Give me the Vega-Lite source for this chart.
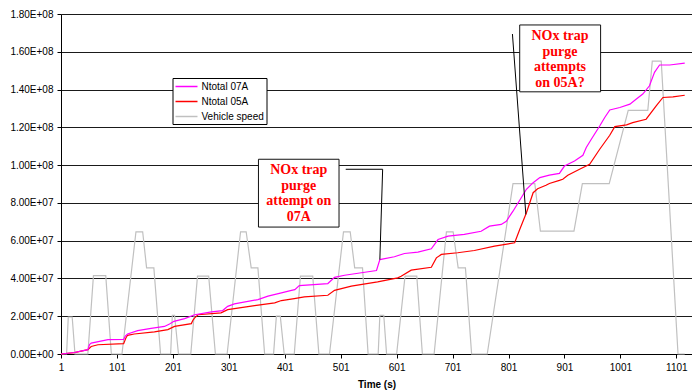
{
  "$schema": "https://vega.github.io/schema/vega-lite/v6.json",
  "width": 631,
  "height": 340,
  "autosize": {"type": "none"},
  "padding": {"left": 61, "top": 14, "right": 0, "bottom": 38},
  "background": "white",
  "config": {"view": {"stroke": null}, "font": "Liberation Sans"},
  "datasets": {
    "series": [
      {"series": "Vehicle speed", "t": 1, "v": 0},
      {"series": "Vehicle speed", "t": 11, "v": 0},
      {"series": "Vehicle speed", "t": 14, "v": 1.96e7},
      {"series": "Vehicle speed", "t": 21, "v": 1.96e7},
      {"series": "Vehicle speed", "t": 26, "v": 0},
      {"series": "Vehicle speed", "t": 49, "v": 0},
      {"series": "Vehicle speed", "t": 59, "v": 4.15e7},
      {"series": "Vehicle speed", "t": 81, "v": 4.15e7},
      {"series": "Vehicle speed", "t": 91, "v": 0},
      {"series": "Vehicle speed", "t": 110, "v": 0},
      {"series": "Vehicle speed", "t": 135, "v": 6.47e7},
      {"series": "Vehicle speed", "t": 147, "v": 6.47e7},
      {"series": "Vehicle speed", "t": 154, "v": 4.56e7},
      {"series": "Vehicle speed", "t": 167, "v": 4.56e7},
      {"series": "Vehicle speed", "t": 179, "v": 0},
      {"series": "Vehicle speed", "t": 197, "v": 0},
      {"series": "Vehicle speed", "t": 200, "v": 2.05e7},
      {"series": "Vehicle speed", "t": 204, "v": 2.05e7},
      {"series": "Vehicle speed", "t": 211, "v": 0},
      {"series": "Vehicle speed", "t": 233, "v": 0},
      {"series": "Vehicle speed", "t": 245, "v": 4.12e7},
      {"series": "Vehicle speed", "t": 265, "v": 4.12e7},
      {"series": "Vehicle speed", "t": 277, "v": 0},
      {"series": "Vehicle speed", "t": 298, "v": 0},
      {"series": "Vehicle speed", "t": 322, "v": 6.47e7},
      {"series": "Vehicle speed", "t": 332, "v": 6.47e7},
      {"series": "Vehicle speed", "t": 341, "v": 4.56e7},
      {"series": "Vehicle speed", "t": 353, "v": 4.56e7},
      {"series": "Vehicle speed", "t": 365, "v": 0},
      {"series": "Vehicle speed", "t": 381, "v": 0},
      {"series": "Vehicle speed", "t": 386, "v": 2.0e7},
      {"series": "Vehicle speed", "t": 393, "v": 2.0e7},
      {"series": "Vehicle speed", "t": 400, "v": 0},
      {"series": "Vehicle speed", "t": 418, "v": 0},
      {"series": "Vehicle speed", "t": 429, "v": 4.12e7},
      {"series": "Vehicle speed", "t": 451, "v": 4.12e7},
      {"series": "Vehicle speed", "t": 462, "v": 0},
      {"series": "Vehicle speed", "t": 481, "v": 0},
      {"series": "Vehicle speed", "t": 506, "v": 6.47e7},
      {"series": "Vehicle speed", "t": 518, "v": 6.47e7},
      {"series": "Vehicle speed", "t": 526, "v": 4.56e7},
      {"series": "Vehicle speed", "t": 540, "v": 4.56e7},
      {"series": "Vehicle speed", "t": 550, "v": 0},
      {"series": "Vehicle speed", "t": 568, "v": 0},
      {"series": "Vehicle speed", "t": 571, "v": 2.05e7},
      {"series": "Vehicle speed", "t": 578, "v": 2.05e7},
      {"series": "Vehicle speed", "t": 583, "v": 0},
      {"series": "Vehicle speed", "t": 601, "v": 0},
      {"series": "Vehicle speed", "t": 616, "v": 4.12e7},
      {"series": "Vehicle speed", "t": 637, "v": 4.12e7},
      {"series": "Vehicle speed", "t": 647, "v": 0},
      {"series": "Vehicle speed", "t": 668, "v": 0},
      {"series": "Vehicle speed", "t": 690, "v": 6.47e7},
      {"series": "Vehicle speed", "t": 702, "v": 6.47e7},
      {"series": "Vehicle speed", "t": 711, "v": 4.56e7},
      {"series": "Vehicle speed", "t": 724, "v": 4.56e7},
      {"series": "Vehicle speed", "t": 735, "v": 0},
      {"series": "Vehicle speed", "t": 763, "v": 0},
      {"series": "Vehicle speed", "t": 809, "v": 9.02e7},
      {"series": "Vehicle speed", "t": 848, "v": 9.02e7},
      {"series": "Vehicle speed", "t": 858, "v": 6.5e7},
      {"series": "Vehicle speed", "t": 918, "v": 6.5e7},
      {"series": "Vehicle speed", "t": 933, "v": 9.02e7},
      {"series": "Vehicle speed", "t": 981, "v": 9.02e7},
      {"series": "Vehicle speed", "t": 1015, "v": 1.29e8},
      {"series": "Vehicle speed", "t": 1050, "v": 1.29e8},
      {"series": "Vehicle speed", "t": 1058, "v": 1.55e8},
      {"series": "Vehicle speed", "t": 1074, "v": 1.55e8},
      {"series": "Vehicle speed", "t": 1104, "v": 0},
      {"series": "Vehicle speed", "t": 1116, "v": 0},

      {"series": "Ntotal 05A", "t": 1, "v": 0},
      {"series": "Ntotal 05A", "t": 25, "v": 0.07e7},
      {"series": "Ntotal 05A", "t": 49, "v": 0.23e7},
      {"series": "Ntotal 05A", "t": 55, "v": 0.40e7},
      {"series": "Ntotal 05A", "t": 67, "v": 0.49e7},
      {"series": "Ntotal 05A", "t": 113, "v": 0.55e7},
      {"series": "Ntotal 05A", "t": 117, "v": 0.85e7},
      {"series": "Ntotal 05A", "t": 120, "v": 0.99e7},
      {"series": "Ntotal 05A", "t": 132, "v": 1.06e7},
      {"series": "Ntotal 05A", "t": 168, "v": 1.17e7},
      {"series": "Ntotal 05A", "t": 192, "v": 1.29e7},
      {"series": "Ntotal 05A", "t": 204, "v": 1.46e7},
      {"series": "Ntotal 05A", "t": 234, "v": 1.61e7},
      {"series": "Ntotal 05A", "t": 237, "v": 1.8e7},
      {"series": "Ntotal 05A", "t": 240, "v": 1.91e7},
      {"series": "Ntotal 05A", "t": 246, "v": 2.08e7},
      {"series": "Ntotal 05A", "t": 287, "v": 2.18e7},
      {"series": "Ntotal 05A", "t": 299, "v": 2.35e7},
      {"series": "Ntotal 05A", "t": 347, "v": 2.56e7},
      {"series": "Ntotal 05A", "t": 383, "v": 2.71e7},
      {"series": "Ntotal 05A", "t": 395, "v": 2.83e7},
      {"series": "Ntotal 05A", "t": 418, "v": 2.93e7},
      {"series": "Ntotal 05A", "t": 436, "v": 3.02e7},
      {"series": "Ntotal 05A", "t": 478, "v": 3.11e7},
      {"series": "Ntotal 05A", "t": 490, "v": 3.37e7},
      {"series": "Ntotal 05A", "t": 520, "v": 3.59e7},
      {"series": "Ntotal 05A", "t": 567, "v": 3.82e7},
      {"series": "Ntotal 05A", "t": 603, "v": 4.03e7},
      {"series": "Ntotal 05A", "t": 609, "v": 4.12e7},
      {"series": "Ntotal 05A", "t": 627, "v": 4.44e7},
      {"series": "Ntotal 05A", "t": 663, "v": 4.59e7},
      {"series": "Ntotal 05A", "t": 672, "v": 5.09e7},
      {"series": "Ntotal 05A", "t": 681, "v": 5.27e7},
      {"series": "Ntotal 05A", "t": 710, "v": 5.36e7},
      {"series": "Ntotal 05A", "t": 740, "v": 5.48e7},
      {"series": "Ntotal 05A", "t": 776, "v": 5.71e7},
      {"series": "Ntotal 05A", "t": 812, "v": 5.89e7},
      {"series": "Ntotal 05A", "t": 821, "v": 6.59e7},
      {"series": "Ntotal 05A", "t": 833, "v": 7.48e7},
      {"series": "Ntotal 05A", "t": 845, "v": 8.54e7},
      {"series": "Ntotal 05A", "t": 853, "v": 8.75e7},
      {"series": "Ntotal 05A", "t": 868, "v": 8.93e7},
      {"series": "Ntotal 05A", "t": 874, "v": 9.03e7},
      {"series": "Ntotal 05A", "t": 892, "v": 9.19e7},
      {"series": "Ntotal 05A", "t": 898, "v": 9.25e7},
      {"series": "Ntotal 05A", "t": 907, "v": 9.46e7},
      {"series": "Ntotal 05A", "t": 928, "v": 9.78e7},
      {"series": "Ntotal 05A", "t": 946, "v": 1.004e8},
      {"series": "Ntotal 05A", "t": 964, "v": 1.084e8},
      {"series": "Ntotal 05A", "t": 982, "v": 1.158e8},
      {"series": "Ntotal 05A", "t": 991, "v": 1.204e8},
      {"series": "Ntotal 05A", "t": 1012, "v": 1.213e8},
      {"series": "Ntotal 05A", "t": 1023, "v": 1.225e8},
      {"series": "Ntotal 05A", "t": 1047, "v": 1.243e8},
      {"series": "Ntotal 05A", "t": 1065, "v": 1.314e8},
      {"series": "Ntotal 05A", "t": 1077, "v": 1.358e8},
      {"series": "Ntotal 05A", "t": 1095, "v": 1.361e8},
      {"series": "Ntotal 05A", "t": 1116, "v": 1.37e8},

      {"series": "Ntotal 07A", "t": 1, "v": 0},
      {"series": "Ntotal 07A", "t": 25, "v": 0.08e7},
      {"series": "Ntotal 07A", "t": 49, "v": 0.23e7},
      {"series": "Ntotal 07A", "t": 52, "v": 0.5e7},
      {"series": "Ntotal 07A", "t": 55, "v": 0.58e7},
      {"series": "Ntotal 07A", "t": 85, "v": 0.76e7},
      {"series": "Ntotal 07A", "t": 113, "v": 0.77e7},
      {"series": "Ntotal 07A", "t": 116, "v": 0.95e7},
      {"series": "Ntotal 07A", "t": 120, "v": 1.06e7},
      {"series": "Ntotal 07A", "t": 138, "v": 1.24e7},
      {"series": "Ntotal 07A", "t": 162, "v": 1.36e7},
      {"series": "Ntotal 07A", "t": 186, "v": 1.46e7},
      {"series": "Ntotal 07A", "t": 195, "v": 1.59e7},
      {"series": "Ntotal 07A", "t": 203, "v": 1.73e7},
      {"series": "Ntotal 07A", "t": 222, "v": 1.87e7},
      {"series": "Ntotal 07A", "t": 240, "v": 2.08e7},
      {"series": "Ntotal 07A", "t": 270, "v": 2.23e7},
      {"series": "Ntotal 07A", "t": 290, "v": 2.3e7},
      {"series": "Ntotal 07A", "t": 299, "v": 2.52e7},
      {"series": "Ntotal 07A", "t": 311, "v": 2.65e7},
      {"series": "Ntotal 07A", "t": 353, "v": 2.88e7},
      {"series": "Ntotal 07A", "t": 371, "v": 3.06e7},
      {"series": "Ntotal 07A", "t": 395, "v": 3.24e7},
      {"series": "Ntotal 07A", "t": 413, "v": 3.37e7},
      {"series": "Ntotal 07A", "t": 419, "v": 3.41e7},
      {"series": "Ntotal 07A", "t": 427, "v": 3.62e7},
      {"series": "Ntotal 07A", "t": 478, "v": 3.73e7},
      {"series": "Ntotal 07A", "t": 490, "v": 4.06e7},
      {"series": "Ntotal 07A", "t": 508, "v": 4.17e7},
      {"series": "Ntotal 07A", "t": 538, "v": 4.30e7},
      {"series": "Ntotal 07A", "t": 565, "v": 4.42e7},
      {"series": "Ntotal 07A", "t": 571, "v": 5.0e7},
      {"series": "Ntotal 07A", "t": 597, "v": 5.15e7},
      {"series": "Ntotal 07A", "t": 615, "v": 5.32e7},
      {"series": "Ntotal 07A", "t": 639, "v": 5.39e7},
      {"series": "Ntotal 07A", "t": 663, "v": 5.57e7},
      {"series": "Ntotal 07A", "t": 675, "v": 6.06e7},
      {"series": "Ntotal 07A", "t": 693, "v": 6.24e7},
      {"series": "Ntotal 07A", "t": 722, "v": 6.33e7},
      {"series": "Ntotal 07A", "t": 752, "v": 6.50e7},
      {"series": "Ntotal 07A", "t": 767, "v": 6.77e7},
      {"series": "Ntotal 07A", "t": 788, "v": 6.86e7},
      {"series": "Ntotal 07A", "t": 797, "v": 7.03e7},
      {"series": "Ntotal 07A", "t": 809, "v": 7.56e7},
      {"series": "Ntotal 07A", "t": 833, "v": 8.72e7},
      {"series": "Ntotal 07A", "t": 845, "v": 9.07e7},
      {"series": "Ntotal 07A", "t": 857, "v": 9.34e7},
      {"series": "Ntotal 07A", "t": 874, "v": 9.47e7},
      {"series": "Ntotal 07A", "t": 892, "v": 9.56e7},
      {"series": "Ntotal 07A", "t": 901, "v": 9.95e7},
      {"series": "Ntotal 07A", "t": 919, "v": 1.022e8},
      {"series": "Ntotal 07A", "t": 934, "v": 1.052e8},
      {"series": "Ntotal 07A", "t": 940, "v": 1.093e8},
      {"series": "Ntotal 07A", "t": 949, "v": 1.137e8},
      {"series": "Ntotal 07A", "t": 964, "v": 1.207e8},
      {"series": "Ntotal 07A", "t": 973, "v": 1.252e8},
      {"series": "Ntotal 07A", "t": 982, "v": 1.292e8},
      {"series": "Ntotal 07A", "t": 1000, "v": 1.305e8},
      {"series": "Ntotal 07A", "t": 1018, "v": 1.323e8},
      {"series": "Ntotal 07A", "t": 1029, "v": 1.349e8},
      {"series": "Ntotal 07A", "t": 1041, "v": 1.376e8},
      {"series": "Ntotal 07A", "t": 1053, "v": 1.42e8},
      {"series": "Ntotal 07A", "t": 1062, "v": 1.491e8},
      {"series": "Ntotal 07A", "t": 1071, "v": 1.53e8},
      {"series": "Ntotal 07A", "t": 1089, "v": 1.53e8},
      {"series": "Ntotal 07A", "t": 1116, "v": 1.54e8}
    ]
  },
  "encoding": {
    "x": {
      "field": "t", "type": "quantitative",
      "scale": {"domain": [1, 1129], "nice": false, "zero": false},
      "axis": {
        "values": [1, 101, 201, 301, 401, 501, 601, 701, 801, 901, 1001, 1101],
        "format": "d",
        "title": "Time (s)", "titleFontWeight": "bold", "titleFontSize": 10, "titleColor": "black",
        "titlePadding": 7, "labelFontSize": 10, "labelColor": "black", "labelPadding": 4,
        "tickSize": 4, "tickColor": "black", "domainColor": "black", "grid": false, "labelFlush": false
      }
    },
    "y": {
      "field": "v", "type": "quantitative",
      "scale": {"domain": [0, 180000000], "nice": false, "zero": true},
      "axis": {
        "values": [0, 20000000, 40000000, 60000000, 80000000, 100000000, 120000000, 140000000, 160000000, 180000000],
        "labelExpr": "replace(format(datum.value, '.2e'), 'e+', 'E+0')",
        "title": null, "labelFontSize": 10, "labelColor": "black", "labelPadding": 4,
        "tickSize": 4, "tickColor": "black", "domainColor": "black",
        "grid": true, "gridColor": "#1a1a1a", "gridWidth": 1
      }
    }
  },
  "layer": [
    {
      "data": {"name": "series"},
      "mark": {"type": "line", "strokeWidth": 1.2, "interpolate": "linear"},
      "encoding": {
        "color": {
          "field": "series", "type": "nominal",
          "scale": {"domain": ["Ntotal 07A", "Ntotal 05A", "Vehicle speed"], "range": ["#ff00ff", "#ff0000", "#c0c0c0"]},
          "legend": {
            "title": null, "orient": "none", "legendX": 111.5, "legendY": 64,
            "fillColor": "white", "strokeColor": "black", "padding": 2,
            "symbolType": "M-1,0H3", "symbolSize": 121, "symbolStrokeWidth": 1.5,
            "labelFontSize": 10, "labelColor": "black", "labelOffset": 14, "rowPadding": 3
          }
        }
      }
    },
    {
      "data": {"values": [
        {"t": 354, "t2": 498, "v": 103100000, "v2": 67200000},
        {"t": 821, "t2": 965.6, "v": 174200000, "v2": 138800000}
      ]},
      "mark": {"type": "rect", "fill": "white", "stroke": "#111111", "strokeWidth": 1},
      "encoding": {
        "x2": {"field": "t2"},
        "y2": {"field": "v2"}
      }
    },
    {
      "data": {"values": [
        {"t": 426, "v": 97200000, "label": "NOx trap"},
        {"t": 426, "v": 89000000, "label": "purge"},
        {"t": 426, "v": 80800000, "label": "attempt on"},
        {"t": 426, "v": 72600000, "label": "07A"},
        {"t": 893, "v": 168300000, "label": "NOx trap"},
        {"t": 893, "v": 160100000, "label": "purge"},
        {"t": 893, "v": 151900000, "label": "attempts"},
        {"t": 893, "v": 143700000, "label": "on 05A?"}
      ]},
      "mark": {"type": "text", "font": "Liberation Serif", "fontWeight": "bold", "fontSize": 14, "color": "#ff0000",
               "align": "center", "baseline": "middle"},
      "encoding": {
        "text": {"field": "label"}
      }
    },
    {
      "data": {"values": [
        {"id": 1, "o": 1, "t": 510, "v": 97800000},
        {"id": 1, "o": 2, "t": 576, "v": 97800000},
        {"id": 1, "o": 3, "t": 571, "v": 50000000},
        {"id": 2, "o": 1, "t": 808, "v": 169400000},
        {"id": 2, "o": 2, "t": 832, "v": 73900000}
      ]},
      "mark": {"type": "line", "color": "black", "strokeWidth": 1},
      "encoding": {
        "detail": {"field": "id", "type": "nominal"},
        "order": {"field": "o", "type": "quantitative"}
      }
    }
  ]
}
